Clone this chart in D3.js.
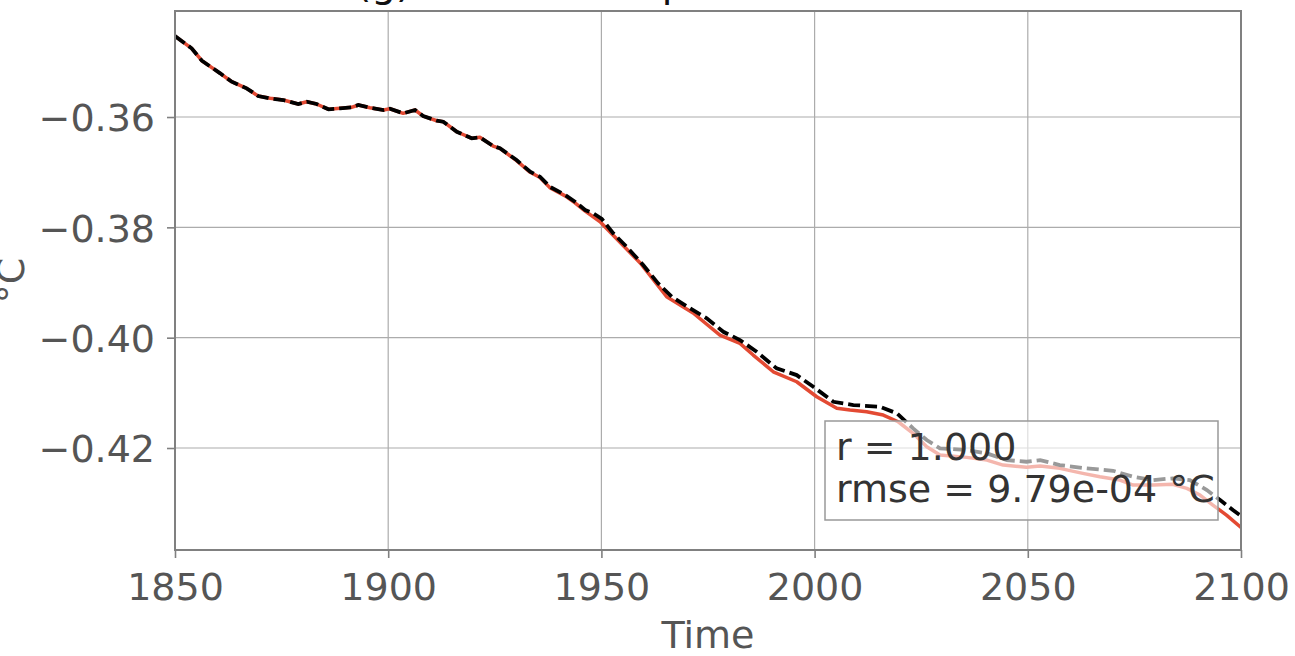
<!DOCTYPE html>
<html>
<head>
<meta charset="utf-8">
<script src="https://cdn.jsdelivr.net/npm/d3@7"></script>
<style>
  html, body { margin: 0; padding: 0; background: #fff; }
  svg { display: block; }
  text { font-family: "DejaVu Sans", sans-serif; }
</style>
</head>
<body>
<svg id="chart" width="1295" height="656"></svg>
<script>
// ---- data ----
const titleText = "(g) Surface temperature";
const xLabel = "Time";
const yLabel = "°C";
const xTicks = [1850, 1900, 1950, 2000, 2050, 2100];
const yTicks = [-0.36, -0.38, -0.40, -0.42];
const annotation = ["r = 1.000", "rmse = 9.79e-04 °C"];

// reference series (black dashed)
const refYears = [1850.0,1853.9,1856.3,1860.6,1863.3,1866.8,1869.5,1872.3,1875.4,1878.9,1880.9,1883.2,1886.0,1888.7,1891.4,1893.0,1895.7,1898.9,1900.4,1903.5,1906.3,1908.2,1911.4,1912.9,1916.1,1919.6,1921.5,1924.6,1926.2,1930.1,1933.3,1935.6,1937.9,1941.5,1943.8,1946.2,1948.1,1950.1,1952.8,1955.9,1959.8,1963.3,1966.5,1970.8,1974.7,1978.6,1982.5,1986.4,1991.1,1995.8,1999.7,2004.4,2009.1,2015.3,2019.3,2023.1,2026.3,2029.4,2035.7,2040.4,2045.1,2049.7,2052.9,2057.5,2063.8,2070.0,2074.7,2079.4,2084.0,2088.0,2092.0,2095.1,2098.1,2100.0];
const refValues = [-0.34532,-0.34754,-0.34979,-0.35208,-0.35360,-0.35480,-0.35619,-0.35661,-0.35692,-0.35764,-0.35723,-0.35764,-0.35860,-0.35842,-0.35824,-0.35782,-0.35831,-0.35873,-0.35850,-0.35933,-0.35873,-0.35982,-0.36067,-0.36085,-0.36267,-0.36386,-0.36368,-0.36526,-0.36567,-0.36780,-0.36992,-0.37082,-0.37264,-0.37414,-0.37536,-0.37686,-0.37746,-0.37849,-0.38109,-0.38351,-0.38683,-0.39015,-0.39258,-0.39468,-0.39650,-0.39893,-0.40043,-0.40255,-0.40556,-0.40678,-0.40890,-0.41162,-0.41221,-0.41252,-0.41372,-0.41644,-0.41856,-0.42006,-0.42037,-0.42097,-0.42219,-0.42249,-0.42219,-0.42309,-0.42369,-0.42413,-0.42521,-0.42581,-0.42550,-0.42581,-0.42762,-0.42944,-0.43125,-0.43230];

// model series (red solid)
const modelYears = [1850.0,1853.9,1856.3,1860.6,1863.3,1866.8,1869.5,1872.3,1875.4,1878.9,1880.9,1883.2,1886.0,1888.7,1891.4,1893.0,1895.7,1898.9,1900.4,1903.5,1906.3,1908.2,1911.4,1912.9,1916.1,1919.6,1921.5,1924.6,1926.2,1930.1,1933.3,1935.6,1937.9,1941.5,1943.8,1946.2,1949.7,1952.7,1959.1,1965.3,1971.5,1977.8,1982.5,1985.6,1990.3,1995.8,2000.5,2005.2,2008.3,2012.2,2016.1,2019.6,2023.1,2026.3,2029.4,2035.7,2040.4,2044.2,2049.7,2052.9,2057.5,2062.9,2066.9,2071.6,2074.7,2079.4,2084.0,2087.3,2090.4,2093.4,2096.6,2100.0];
const modelValues = [-0.34532,-0.34754,-0.34979,-0.35208,-0.35360,-0.35480,-0.35619,-0.35661,-0.35692,-0.35764,-0.35723,-0.35764,-0.35860,-0.35842,-0.35824,-0.35782,-0.35831,-0.35873,-0.35850,-0.35933,-0.35873,-0.35982,-0.36067,-0.36085,-0.36267,-0.36386,-0.36368,-0.36526,-0.36567,-0.36790,-0.37002,-0.37095,-0.37280,-0.37430,-0.37555,-0.37705,-0.37898,-0.38139,-0.38647,-0.39258,-0.39553,-0.39952,-0.40103,-0.40315,-0.40618,-0.40799,-0.41071,-0.41281,-0.41312,-0.41343,-0.41403,-0.41524,-0.41734,-0.41977,-0.42128,-0.42170,-0.42219,-0.42309,-0.42351,-0.42327,-0.42369,-0.42460,-0.42521,-0.42581,-0.42672,-0.42672,-0.42659,-0.42732,-0.42853,-0.43034,-0.43216,-0.43440];

// ---- layout ----
const W = 1295, H = 656;
const M = { left: 175, right: 1241, top: 11, bottom: 550 };
const fs = 38;
const tickColor = "#555555";
const spineColor = "#808080";
const gridColor = "#acacac";

const svg = d3.select("#chart");

const x = d3.scaleLinear().domain([1850, 2100]).range([M.left, M.right]);
const y = d3.scaleLinear().domain([-0.43849, -0.34078]).range([M.bottom, M.top]);

// title (mostly above the visible area, as in the reference)
svg.append("text")
  .attr("x", 356).attr("y", -3)
  .attr("font-size", 39).attr("fill", "#111")
  .text(titleText);

// grid
const grid = svg.append("g");
grid.selectAll("line.vx").data(xTicks).join("line")
  .attr("x1", d => x(d)).attr("x2", d => x(d))
  .attr("y1", M.top).attr("y2", M.bottom)
  .attr("stroke", gridColor).attr("stroke-width", 1.2);
grid.selectAll("line.hy").data(yTicks).join("line")
  .attr("x1", M.left).attr("x2", M.right)
  .attr("y1", d => y(d)).attr("y2", d => y(d))
  .attr("stroke", gridColor).attr("stroke-width", 1.2);

// lines
svg.append("clipPath").attr("id", "plotclip")
  .append("rect").attr("x", M.left).attr("y", M.top)
  .attr("width", M.right - M.left).attr("height", M.bottom - M.top);

const lineGen = d3.line().x(d => x(d[0])).y(d => y(d[1])).curve(d3.curveLinear);
const modelData = modelYears.map((yr, i) => [yr, modelValues[i]]);
const refData = refYears.map((yr, i) => [yr, refValues[i]]);

const plotG = svg.append("g").attr("clip-path", "url(#plotclip)");
plotG.append("path").datum(modelData)
  .attr("d", lineGen).attr("fill", "none")
  .attr("stroke", "#e34a33").attr("stroke-width", 3.5)
  .attr("stroke-linejoin", "round");
plotG.append("path").datum(refData)
  .attr("d", lineGen).attr("fill", "none")
  .attr("stroke", "#000").attr("stroke-width", 3.8)
  .attr("stroke-dasharray", "12,5");

// axes
const xAxis = d3.axisBottom(x).tickValues(xTicks).tickFormat(d3.format("d"))
  .tickSize(8).tickPadding(8);
const yAxis = d3.axisLeft(y).tickValues(yTicks)
  .tickFormat(d => d3.format(".2f")(d).replace("-", "\u2212"))
  .tickSize(8).tickPadding(10);

const gx = svg.append("g").attr("transform", `translate(0,${M.bottom})`).call(xAxis);
const gy = svg.append("g").attr("transform", `translate(${M.left},0)`).call(yAxis);
[gx, gy].forEach(g => {
  g.select(".domain").remove();
  g.selectAll(".tick line").attr("stroke", spineColor).attr("stroke-width", 1.6);
  g.selectAll(".tick text").attr("fill", tickColor)
    .attr("font-size", fs).attr("font-family", "DejaVu Sans, sans-serif");
});
gx.selectAll(".tick text").attr("dy", null).attr("y", 50);
gy.selectAll(".tick text").attr("dy", "0.36em").attr("x", -20);

// spines
svg.append("rect")
  .attr("x", M.left).attr("y", M.top)
  .attr("width", M.right - M.left).attr("height", M.bottom - M.top)
  .attr("fill", "none").attr("stroke", spineColor).attr("stroke-width", 2);

// axis labels
svg.append("text")
  .attr("x", (M.left + M.right) / 2).attr("y", 648)
  .attr("text-anchor", "middle").attr("font-size", fs).attr("fill", tickColor)
  .text(xLabel);
svg.append("text")
  .attr("transform", `translate(24,${(M.top + M.bottom) / 2}) rotate(-90)`)
  .attr("text-anchor", "middle").attr("font-size", fs).attr("fill", tickColor)
  .text(yLabel);

// annotation box
const bx = M.right - 416, by = M.bottom - 129, bw = 393, bh = 99;
svg.append("rect")
  .attr("x", bx).attr("y", by).attr("width", bw).attr("height", bh)
  .attr("fill", "#ffffff").attr("fill-opacity", 0.6)
  .attr("stroke", "#999").attr("stroke-width", 1.5);
svg.selectAll("text.ann").data(annotation).join("text")
  .attr("class", "ann")
  .attr("x", bx + 11).attr("y", (d, i) => by + 39 + i * 42)
  .attr("font-size", fs).attr("fill", "#333")
  .text(d => d);
</script>
</body>
</html>
